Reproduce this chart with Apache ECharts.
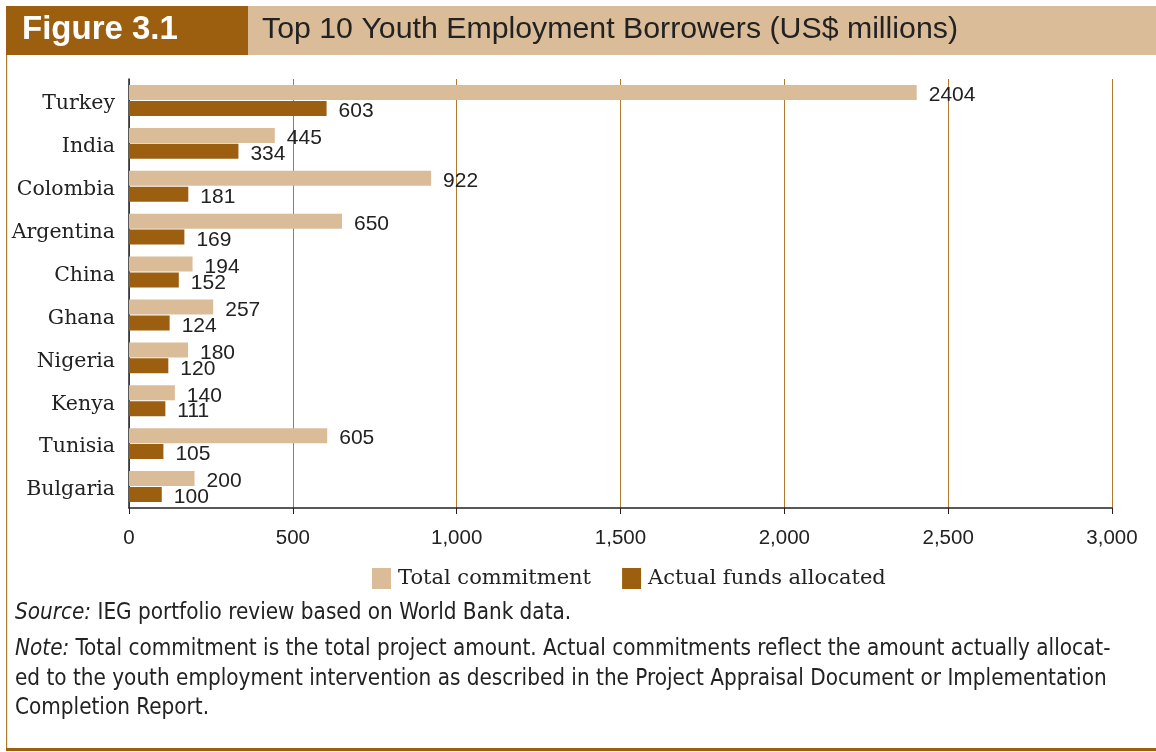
<!DOCTYPE html>
<html><head><meta charset="utf-8">
<script src="https://cdn.jsdelivr.net/npm/echarts@6/dist/echarts.min.js"></script>
<style>html,body{margin:0;padding:0;background:#fff}#c{width:1156px;height:752px}</style>
</head><body><div id="c"></div>
<script>
const categories = ['Turkey','India','Colombia','Argentina','China','Ghana','Nigeria','Kenya','Tunisia','Bulgaria'];
const totalCommitment = [2404, 445, 922, 650, 194, 257, 180, 140, 605, 200];
const actualFunds = [603, 334, 181, 169, 152, 124, 120, 111, 105, 100];
const seriesNames = ['Total commitment', 'Actual funds allocated'];
const figureLabel = 'Figure 3.1';
const titleText = 'Top 10 Youth Employment Borrowers (US$ millions)';
const sourceLabel = 'Source:';
const sourceText = ' IEG portfolio review based on World Bank data.';
const noteLabel = 'Note:';
const noteLines = [
  ' Total commitment is the total project amount. Actual commitments reflect the amount actually allocat-',
  'ed to the youth employment intervention as described in the Project Appraisal Document or Implementation',
  'Completion Report.'
];

const TAN = '#dbbc98', BROWN = '#9c5f10', GRID = '#b07a2e';
const serif = '"DejaVu Serif", serif';
const sans = '"Liberation Sans", Arial, sans-serif';
const footFont = '"Liberation Sans Narrow", "DejaVu Sans Condensed", sans-serif';

const chart = echarts.init(document.getElementById('c'), null, {renderer:'canvas'});
const labelCommon = {show:true, position:'right', distance:12, offset:[0,3], color:'#222', fontFamily:sans, fontSize:21};
const rich = {i:{fontStyle:'italic', fontFamily:footFont, fontSize:22.3, fill:'#222'}, n:{fontFamily:footFont, fontSize:22.3, fill:'#222'}};
chart.setOption({
  animation:false,
  backgroundColor:'#fff',
  grid:{left:129, right:44, top:79, bottom:244},
  xAxis:{type:'value', min:0, max:3000, interval:500,
    axisLine:{show:true, lineStyle:{color:'#222', width:1.5}},
    axisTick:{show:true, length:6, lineStyle:{color:'#222'}},
    splitLine:{show:true, lineStyle:{color:GRID, width:1}},
    axisLabel:{color:'#222', fontFamily:sans, fontSize:20.5, margin:20,
      formatter:v=>v.toLocaleString('en-US')}},
  yAxis:{type:'category', data:categories, inverse:true,
    axisLine:{show:true, lineStyle:{color:'#222', width:1.5}},
    axisTick:{show:false},
    axisLabel:{color:'#222', fontFamily:serif, fontSize:20.5, margin:14, verticalAlign:'top', lineHeight:7}},
  legend:{top:563, left:367, itemWidth:19, itemHeight:21, itemGap:31,
    textStyle:{color:'#222', fontFamily:serif, fontSize:21, padding:[0,0,0,2]}, icon:'rect',
    data:seriesNames},
  series:[
    {name:seriesNames[0], type:'bar', data:totalCommitment, itemStyle:{color:TAN},
     barWidth:15, barGap:'6%', label:labelCommon},
    {name:seriesNames[1], type:'bar', data:actualFunds, itemStyle:{color:BROWN},
     barWidth:15, barGap:'6%', label:labelCommon}
  ],
  graphic:[
    {type:'rect', left:6, top:6, shape:{width:242, height:49}, style:{fill:BROWN}, silent:true},
    {type:'rect', left:248, top:6, shape:{width:908, height:49}, style:{fill:TAN}, silent:true},
    {type:'text', left:22, top:13, style:{text:figureLabel, fill:'#fff', font:'bold 33px "Liberation Sans", sans-serif'}},
    {type:'text', left:262, top:15, style:{text:titleText, fill:'#222', font:'30.3px "Liberation Sans", sans-serif'}},
    {type:'rect', left:6, top:55, shape:{width:1.2, height:694}, style:{fill:GRID}, silent:true},
    {type:'rect', left:6, top:748, shape:{width:1150, height:3}, style:{fill:BROWN}, silent:true},
    {type:'text', left:15, top:602, style:{rich:rich, text:'{i|'+sourceLabel+'}{n|'+sourceText+'}'}},
    {type:'text', left:15, top:638, style:{rich:rich, text:'{i|'+noteLabel+'}{n|'+noteLines[0]+'}'}},
    {type:'text', left:15, top:668, style:{text:noteLines[1], fill:'#222', font:'22.3px '+footFont}},
    {type:'text', left:15, top:697, style:{text:noteLines[2], fill:'#222', font:'22.3px '+footFont}}
  ]
});
</script></body></html>
